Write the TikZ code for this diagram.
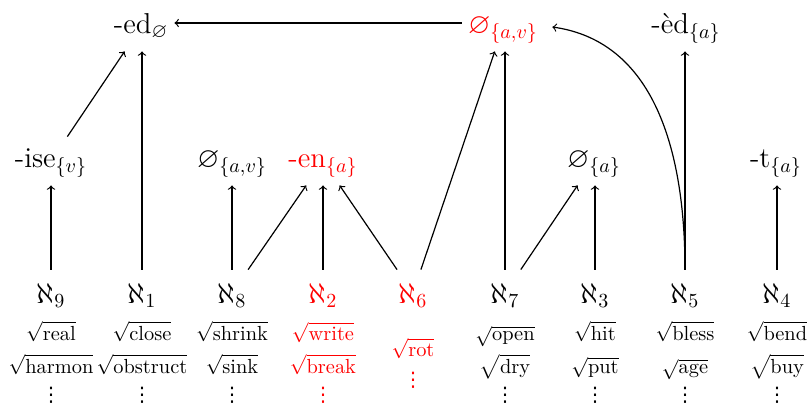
\documentclass[tikz,border=0pt]{standalone}
\usepackage{amssymb}
\usepackage{fontspec}
\newfontfamily\dotsfont{DejaVu Sans}
\newcommand{\mydots}{{\dotsfont\fontsize{10}{12}\selectfont ⋮}}
\begin{document}
\begin{tikzpicture}[x=0.5pt,y=-0.5pt,
  lab/.style={font=\fontsize{14.4}{17}\selectfont, anchor=base, text height=10pt, text depth=4pt, inner ysep=5pt, inner xsep=3pt},
  alef/.style={font=\fontsize{14.4}{17}\selectfont, anchor=base, text height=12pt, text depth=2pt, inner ysep=4.5pt, inner xsep=3pt},
  root/.style={font=\fontsize{10.2}{12}\selectfont, anchor=base, inner sep=0pt},
  arr/.style={->, line width=0.6pt},
  hl/.style={text=red}]
\useasboundingbox (0,0) rectangle (809,407);
% top row
\node[lab] (ed) at (141,33) {-ed$_{\varnothing}$};
\node[lab,hl] (topnull) at (503,33) {$\varnothing_{\{a,v\}}$};
\node[lab] (edg) at (686,33) {-èd$_{\{a\}}$};
% middle row
\node[lab] (ise) at (51,167) {-ise$_{\{v\}}$};
\node[lab] (nav) at (232,167) {$\varnothing_{\{a,v\}}$};
\node[lab,hl] (en) at (323,167) {-en$_{\{a\}}$};
\node[lab] (na) at (594,167) {$\varnothing_{\{a\}}$};
\node[lab] (t) at (776,167) {-t$_{\{a\}}$};
% alephs
\node[alef] (a9) at (51,303) {$\aleph_9$};
\node[alef] (a1) at (142,303) {$\aleph_1$};
\node[alef] (a8) at (232,303) {$\aleph_8$};
\node[alef,hl] (a2) at (323,303) {$\aleph_2$};
\node[alef,hl] (a6) at (413,303) {$\aleph_6$};
\node[alef] (a7) at (505,303) {$\aleph_7$};
\node[alef] (a3) at (595,303) {$\aleph_3$};
\node[alef] (a5) at (685,303) {$\aleph_5$};
\node[alef] (a4) at (777,303) {$\aleph_4$};
% roots
\node[root] (r9a) at (51,340) {$\sqrt{\textrm{real}}$};
\node[root] (r9b) at (51,373) {$\sqrt{\textrm{harmon}}$};
\node[root] (r9c) at (51,401) {\mydots};
\node[root] (r1a) at (142,340) {$\sqrt{\textrm{close}}$};
\node[root] (r1b) at (142,373) {$\sqrt{\textrm{obstruct}}$};
\node[root] (r1c) at (142,401) {\mydots};
\node[root] (r8a) at (232,340) {$\sqrt{\textrm{shrink}}$};
\node[root] (r8b) at (232,373) {$\sqrt{\textrm{sink}}$};
\node[root] (r8c) at (232,401) {\mydots};
\node[root,hl] (r2a) at (323,340) {$\sqrt{\textrm{write}}$};
\node[root,hl] (r2b) at (323,373) {$\sqrt{\textrm{break}}$};
\node[root,hl] (r2c) at (323,401) {\mydots};
\node[root,hl] (r6a) at (413,356) {$\sqrt{\textrm{rot}}$};
\node[root,hl] (r6c) at (413,386) {\mydots};
\node[root] (r7a) at (505,340) {$\sqrt{\textrm{open}}$};
\node[root] (r7b) at (505,373) {$\sqrt{\textrm{dry}}$};
\node[root] (r7c) at (505,401) {\mydots};
\node[root] (r3a) at (595,340) {$\sqrt{\textrm{hit}}$};
\node[root] (r3b) at (595,373) {$\sqrt{\textrm{put}}$};
\node[root] (r3c) at (595,401) {\mydots};
\node[root] (r5a) at (685,340) {$\sqrt{\textrm{bless}}$};
\node[root] (r5b) at (685,373) {$\sqrt{\textrm{age}}$};
\node[root] (r5c) at (685,401) {\mydots};
\node[root] (r4a) at (777,340) {$\sqrt{\textrm{bend}}$};
\node[root] (r4b) at (777,373) {$\sqrt{\textrm{buy}}$};
\node[root] (r4c) at (777,401) {\mydots};
% arrows
\draw[arr] (a9) -- (a9 |- ise.south);
\draw[arr] (ise) -- (ed);
\draw[arr] (a1) -- (a1 |- ed.south);
\draw[arr] (a8) -- (a8 |- nav.south);
\draw[arr] (a8) -- (en);
\draw[arr] (a2) -- (a2 |- en.south);
\draw[arr] (a6) -- (en);
\draw[arr] (a6) -- (topnull);
\draw[arr] (a7) -- (a7 |- topnull.south);
\draw[arr] (a7) -- (na);
\draw[arr] (a3) -- (a3 |- na.south);
\draw[arr] (a5) -- (a5 |- edg.south);
\draw[arr] (a5) to[out=90,in=-8] ([xshift=4pt]topnull.east);
\draw[arr] (a4) -- (a4 |- t.south);
\draw[arr] ([yshift=2pt]topnull.west) -- ([yshift=2pt]ed.east);
\end{tikzpicture}
\end{document}
